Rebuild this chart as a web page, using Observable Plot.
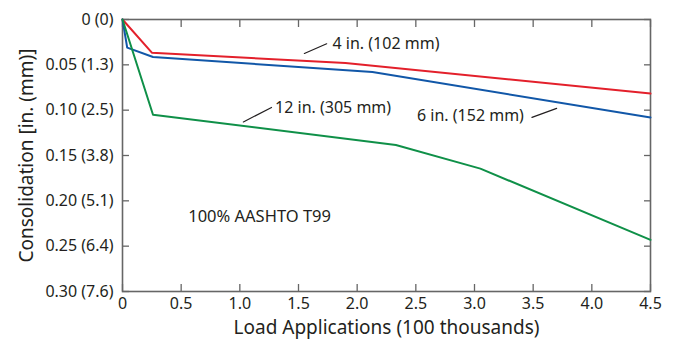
<!DOCTYPE html>
<html>
<head>
<meta charset="utf-8">
<script src="https://cdn.jsdelivr.net/npm/d3@7"></script>
<script src="https://cdn.jsdelivr.net/npm/@observablehq/plot@0.6"></script>
<style>
  html, body { margin: 0; padding: 0; background: #fff; }
  #chart svg { display: block; }
</style>
</head>
<body>
<div id="chart"></div>
<script>
// Series: load applications (100 thousands) vs consolidation (in.)
const series = ["4 in. (102 mm)", "6 in. (152 mm)", "12 in. (305 mm)"];
const xRed   = [0, 0.25, 1.9, 4.5];
const yRed   = [0, 0.0366, 0.048, 0.0817];
const xBlue  = [0, 0.04, 0.26, 2.13, 4.5];
const yBlue  = [0, 0.031, 0.0414, 0.058, 0.108];
const xGreen = [0, 0.26, 2.33, 3.05, 4.5];
const yGreen = [0, 0.105, 0.1385, 0.1645, 0.243];

const xTicks = [0, 0.5, 1.0, 1.5, 2.0, 2.5, 3.0, 3.5, 4.0, 4.5];
const xTickLabels = ["0", "0.5", "1.0", "1.5", "2.0", "2.5", "3.0", "3.5", "4.0", "4.5"];
const yTicks = [0, 0.05, 0.10, 0.15, 0.20, 0.25, 0.30];
const yTickLabels = ["0 (0)", "0.05 (1.3)", "0.10 (2.5)", "0.15 (3.8)", "0.20 (5.1)", "0.25 (6.4)", "0.30 (7.6)"];

const colors = ["#e3202b", "#1157a8", "#0f9048"];

// Annotation placement (data units)
const labelX = [1.79, 2.51, 1.30];
const labelY = [0.0268, 0.106, 0.097];
const arrowFrom = [[1.74, 0.0268], [3.49, 0.108], [1.27, 0.097]];
const arrowTo   = [[1.55, 0.0375], [3.70, 0.098], [1.03, 0.113]];
const arrowBend = [-30, -30, -30];
const noteText = "100% AASHTO T99";
const noteX = 0.56, noteY = 0.217;

const lines = [];
[[xRed, yRed], [xBlue, yBlue], [xGreen, yGreen]].forEach(([xs, ys], i) => {
  xs.forEach((x, j) => lines.push({series: series[i], x, y: ys[j]}));
});
const labels = series.map((s, i) => ({s, x: labelX[i], y: labelY[i]}));
const arrows = series.map((s, i) => ({
  x1: arrowFrom[i][0], y1: arrowFrom[i][1], x2: arrowTo[i][0], y2: arrowTo[i][1], bend: arrowBend[i]
}));

const font = "'Noto Sans', sans-serif";
const textColor = "#231f20";
const frameColor = "#666";
const tickLen = 7;

const chart = Plot.plot({
  width: 677,
  height: 339,
  marginLeft: 122,
  marginRight: 27,
  marginTop: 19,
  marginBottom: 48,
  style: {fontFamily: font, fontSize: "16px", color: textColor, background: "#fff"},
  x: {domain: [0, 4.5], axis: null},
  y: {domain: [0, 0.3], reverse: true, axis: null},
  color: {domain: series, range: colors},
  marks: [
    // tick labels
    Plot.text(xTicks, {x: d => d, frameAnchor: "bottom", lineAnchor: "top", dy: 6, text: (d, i) => xTickLabels[i], fontSize: 16, fill: textColor}),
    Plot.text(yTicks, {y: d => d, frameAnchor: "left", textAnchor: "end", dx: -9, text: (d, i) => yTickLabels[i], fontSize: 16, fill: textColor}),
    // inward tick marks
    Plot.axisX({ticks: xTicks, anchor: "bottom", text: null, tickSize: tickLen, dy: -tickLen, stroke: frameColor, strokeWidth: 1.3, label: null}),
    Plot.axisX({ticks: xTicks, anchor: "top", text: null, tickSize: tickLen, dy: tickLen, stroke: frameColor, strokeWidth: 1.3, label: null}),
    Plot.axisY({ticks: yTicks, anchor: "left", text: null, tickSize: tickLen, dx: tickLen, stroke: frameColor, strokeWidth: 1.3, label: null}),
    Plot.axisY({ticks: yTicks, anchor: "right", text: null, tickSize: tickLen, dx: -tickLen, stroke: frameColor, strokeWidth: 1.3, label: null}),
    Plot.frame({stroke: frameColor, strokeWidth: 1.6}),
    Plot.line(lines, {x: "x", y: "y", z: "series", stroke: "series", strokeWidth: 2}),
    Plot.arrow(arrows, {x1: "x1", y1: "y1", x2: "x2", y2: "y2", bend: "bend", stroke: textColor, strokeWidth: 1.2, headLength: 7, headAngle: 55}),
    Plot.text(labels, {x: "x", y: "y", text: "s", textAnchor: "start", fontSize: 16, fill: textColor}),
    Plot.text([noteText], {x: noteX, y: noteY, text: d => d, textAnchor: "start", fontSize: 16.5, fill: textColor}),
    // axis titles
    Plot.text(["Load Applications (100 thousands)"], {frameAnchor: "bottom", lineAnchor: "middle", text: d => d, dy: 36, fontSize: 19, fill: textColor}),
    Plot.text(["Consolidation [in. (mm)]"], {frameAnchor: "left", textAnchor: "middle", lineAnchor: "middle", text: d => d, rotate: -90, dx: -96, fontSize: 19, fill: textColor})
  ]
});
document.getElementById("chart").appendChild(chart);
</script>
</body>
</html>
